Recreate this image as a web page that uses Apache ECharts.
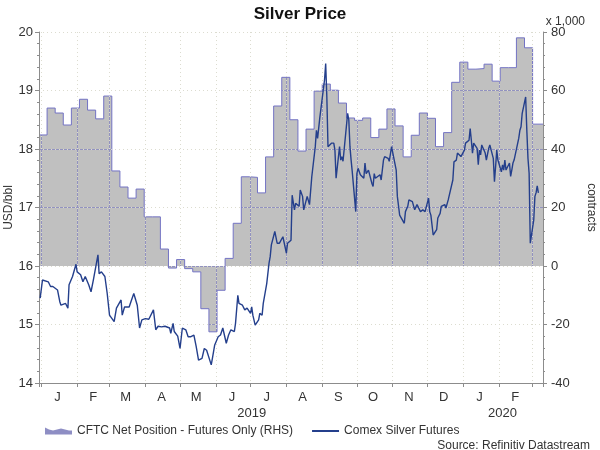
<!DOCTYPE html>
<html>
<head>
<meta charset="utf-8">
<title>Silver Price</title>
<script src="https://cdn.jsdelivr.net/npm/echarts@6.0.0/dist/echarts.min.js"></script>
<style>
    html, body { margin: 0; padding: 0; background: #fff; }
    #chart { width: 600px; height: 450px; }
</style>
</head>
<body>
<div id="chart"></div>
<script>
// axis span (calendar days shown on the x axis)
var axisStart = '2018-12-30';
var axisEnd = '2020-03-10';

var monthLetters = ['J', 'F', 'M', 'A', 'M', 'J', 'J', 'A', 'S', 'O', 'N', 'D'];
var yearLabelDays = ['2019-07-02', '2020-02-04'];

// CFTC net position, thousand contracts, one reading per week from cftcStart
var cftcStart = '2018-12-30';
var cftcNet = [
    44.8, 54.0, 52.3, 48.2, 54.0, 57.0, 53.3, 50.3, 58.1, 32.5,
    27.0, 23.2, 26.3, 16.8, 16.8, 5.8, -0.7, 2.2, -0.9, -2.0,
    -14.6, -22.5, -8.3, 2.6, 14.6, 30.5, 30.3, 25.0, 37.3, 54.7,
    64.5, 50.0, 39.3, 46.8, 59.8, 62.2, 60.1, 55.7, 50.6, 49.8,
    50.6, 43.9, 46.8, 53.7, 47.9, 37.3, 44.7, 52.3, 50.5, 40.8,
    45.6, 62.8, 69.7, 67.3, 67.5, 69.0, 63.2, 67.8, 67.8, 78.0,
    74.6, 48.5
];

// Comex silver futures, USD
var silverPrice = [
    ['2018-12-31', 15.45], ['2019-01-02', 15.76], ['2019-01-07', 15.73], ['2019-01-09', 15.65],
    ['2019-01-11', 15.65], ['2019-01-15', 15.59], ['2019-01-17', 15.39], ['2019-01-18', 15.33],
    ['2019-01-22', 15.36], ['2019-01-24', 15.28], ['2019-01-25', 15.68], ['2019-01-28', 15.82],
    ['2019-01-31', 16.03], ['2019-02-01', 15.90], ['2019-02-04', 15.85], ['2019-02-06', 15.73],
    ['2019-02-08', 15.82], ['2019-02-11', 15.68], ['2019-02-13', 15.56], ['2019-02-15', 15.76],
    ['2019-02-19', 16.19], ['2019-02-20', 15.87], ['2019-02-22', 15.90], ['2019-02-25', 15.82],
    ['2019-02-27', 15.53], ['2019-03-01', 15.16], ['2019-03-05', 15.05], ['2019-03-06', 15.02],
    ['2019-03-07', 15.28], ['2019-03-08', 15.27], ['2019-03-11', 15.42], ['2019-03-12', 15.16],
    ['2019-03-14', 15.30], ['2019-03-18', 15.30], ['2019-03-19', 15.36], ['2019-03-20', 15.39],
    ['2019-03-22', 15.53], ['2019-03-25', 15.33], ['2019-03-27', 14.94], ['2019-03-29', 15.08],
    ['2019-04-01', 15.10], ['2019-04-04', 15.09], ['2019-04-08', 15.25], ['2019-04-09', 15.25],
    ['2019-04-10', 14.91], ['2019-04-12', 14.97], ['2019-04-15', 14.96], ['2019-04-18', 14.97],
    ['2019-04-22', 14.94], ['2019-04-23', 14.85], ['2019-04-25', 15.02], ['2019-04-26', 14.88],
    ['2019-04-29', 14.80], ['2019-05-01', 14.59], ['2019-05-03', 14.94], ['2019-05-06', 14.91],
    ['2019-05-08', 14.79], ['2019-05-10', 14.79], ['2019-05-13', 14.82], ['2019-05-15', 14.62],
    ['2019-05-17', 14.39], ['2019-05-20', 14.42], ['2019-05-21', 14.39], ['2019-05-22', 14.59],
    ['2019-05-24', 14.56], ['2019-05-28', 14.31], ['2019-05-29', 14.42], ['2019-05-31', 14.65],
    ['2019-06-03', 14.79], ['2019-06-05', 14.82], ['2019-06-07', 14.94], ['2019-06-10', 14.68],
    ['2019-06-12', 14.82], ['2019-06-14', 14.91], ['2019-06-17', 14.88], ['2019-06-18', 15.02],
    ['2019-06-20', 15.50], ['2019-06-21', 15.36], ['2019-06-24', 15.33], ['2019-06-26', 15.25],
    ['2019-06-28', 15.28], ['2019-07-01', 15.19], ['2019-07-02', 15.30], ['2019-07-03', 15.16],
    ['2019-07-05', 14.99], ['2019-07-08', 15.08], ['2019-07-09', 15.19], ['2019-07-11', 15.16],
    ['2019-07-12', 15.36], ['2019-07-15', 15.70], ['2019-07-17', 16.05], ['2019-07-18', 16.16],
    ['2019-07-19', 16.36], ['2019-07-22', 16.59], ['2019-07-24', 16.39], ['2019-07-26', 16.39],
    ['2019-07-29', 16.50], ['2019-08-01', 16.22], ['2019-08-02', 16.39], ['2019-08-05', 16.44],
    ['2019-08-06', 17.21], ['2019-08-08', 16.96], ['2019-08-09', 17.07], ['2019-08-12', 17.02],
    ['2019-08-13', 17.30], ['2019-08-15', 17.19], ['2019-08-16', 16.96], ['2019-08-19', 17.19],
    ['2019-08-21', 17.05], ['2019-08-23', 17.53], ['2019-08-26', 18.04], ['2019-08-27', 18.32],
    ['2019-08-28', 18.18], ['2019-08-29', 18.18], ['2019-08-30', 18.55], ['2019-09-03', 19.18],
    ['2019-09-04', 19.46], ['2019-09-05', 18.89], ['2019-09-06', 18.04], ['2019-09-09', 18.10],
    ['2019-09-11', 18.10], ['2019-09-12', 17.98], ['2019-09-13', 17.50], ['2019-09-16', 18.04],
    ['2019-09-17', 17.81], ['2019-09-18', 17.87], ['2019-09-19', 17.79], ['2019-09-20', 17.76],
    ['2019-09-23', 18.61], ['2019-09-24', 18.50], ['2019-09-25', 18.04], ['2019-09-26', 17.81],
    ['2019-09-27', 17.61], ['2019-09-30', 16.93], ['2019-10-01', 17.58], ['2019-10-02', 17.67],
    ['2019-10-04', 17.56], ['2019-10-07', 17.50], ['2019-10-08', 17.76], ['2019-10-09', 17.58],
    ['2019-10-11', 17.64], ['2019-10-14', 17.41], ['2019-10-15', 17.36], ['2019-10-16', 17.58],
    ['2019-10-17', 17.50], ['2019-10-21', 17.56], ['2019-10-22', 17.47], ['2019-10-24', 17.81],
    ['2019-10-25', 17.87], ['2019-10-28', 17.84], ['2019-10-29', 17.79], ['2019-10-31', 18.04],
    ['2019-11-01', 18.07], ['2019-11-04', 17.64], ['2019-11-05', 17.19], ['2019-11-07', 16.87],
    ['2019-11-08', 16.85], ['2019-11-11', 16.73], ['2019-11-12', 16.93], ['2019-11-14', 17.02],
    ['2019-11-15', 17.13], ['2019-11-18', 17.10], ['2019-11-20', 16.96], ['2019-11-22', 17.05],
    ['2019-11-25', 16.93], ['2019-11-27', 16.96], ['2019-11-29', 16.93], ['2019-12-02', 17.16],
    ['2019-12-03', 16.93], ['2019-12-04', 16.87], ['2019-12-06', 16.53], ['2019-12-09', 16.62],
    ['2019-12-10', 16.82], ['2019-12-12', 16.90], ['2019-12-13', 17.02], ['2019-12-16', 17.05],
    ['2019-12-17', 16.99], ['2019-12-19', 17.13], ['2019-12-23', 17.47], ['2019-12-24', 17.78],
    ['2019-12-26', 17.81], ['2019-12-27', 17.93], ['2019-12-30', 17.87], ['2019-12-31', 17.90],
    ['2020-01-02', 17.98], ['2020-01-03', 18.10], ['2020-01-06', 18.15], ['2020-01-07', 18.35],
    ['2020-01-08', 18.15], ['2020-01-09', 17.93], ['2020-01-10', 18.10], ['2020-01-13', 18.01],
    ['2020-01-14', 17.73], ['2020-01-15', 17.98], ['2020-01-16', 17.90], ['2020-01-17', 18.07],
    ['2020-01-20', 17.93], ['2020-01-21', 17.81], ['2020-01-23', 18.01], ['2020-01-24', 18.07],
    ['2020-01-27', 17.84], ['2020-01-28', 17.44], ['2020-01-29', 17.70], ['2020-01-30', 17.98],
    ['2020-01-31', 17.81], ['2020-02-03', 17.61], ['2020-02-04', 17.73], ['2020-02-05', 17.64],
    ['2020-02-06', 17.81], ['2020-02-07', 17.64], ['2020-02-10', 17.76], ['2020-02-11', 17.53],
    ['2020-02-12', 17.64], ['2020-02-13', 17.76], ['2020-02-14', 17.81], ['2020-02-18', 18.18],
    ['2020-02-19', 18.32], ['2020-02-20', 18.38], ['2020-02-21', 18.61], ['2020-02-24', 18.89],
    ['2020-02-25', 18.32], ['2020-02-26', 17.84], ['2020-02-27', 17.58], ['2020-02-28', 16.39],
    ['2020-03-02', 16.79], ['2020-03-03', 17.19], ['2020-03-04', 17.25], ['2020-03-05', 17.37],
    ['2020-03-06', 17.25]
];

var cftcName = 'CFTC Net Position - Futures Only (RHS)';
var silverName = 'Comex Silver Futures';
var fontName = 'Liberation Sans, Arial, sans-serif';
var DAY = 86400000;
var axisGrey = '#8c8c8c';

function isoDay(d) {
    return d.toISOString().slice(0, 10);
}

// every calendar day between two iso dates, used as x categories
function dayList(start, end) {
    var out = [];
    var d = new Date(start + 'T00:00:00Z');
    var e = new Date(end + 'T00:00:00Z');
    while (d <= e) {
        out.push(isoDay(d));
        d.setUTCDate(d.getUTCDate() + 1);
    }
    return out;
}

var days = dayList(axisStart, axisEnd);

// weekly steps, last reading held until the end of the axis
var cftcData = cftcNet.map(function (v, i) {
    var d = new Date(cftcStart + 'T00:00:00Z');
    d.setUTCDate(d.getUTCDate() + 7 * i);
    return [isoDay(d), v];
});
cftcData.push([axisEnd, cftcNet[cftcNet.length - 1]]);

// white masks outside the filled region, so the blue grid only shows inside it
var maskAbove = cftcData.map(function (p) { return [p[0], Math.max(p[1], 0)]; });
var maskBelow = cftcData.map(function (p) { return [p[0], Math.min(p[1], 0)]; });

// grid seen through the grey fill
var innerGrid = { show: true, lineStyle: { color: 'rgb(190, 190, 255)', width: 1, type: 'solid' } };
// faint dotted grid on the white part
var outerGrid = { show: true, lineStyle: { color: '#dcdcd0', width: 1, type: [1, 3] } };

function maskSeries(data, origin) {
    return {
        type: 'line',
        xAxisIndex: 0,
        yAxisIndex: 1,
        step: 'end',
        symbol: 'none',
        silent: true,
        z: 1,
        lineStyle: { width: 0, opacity: 0 },
        areaStyle: { color: '#ffffff', opacity: 1, origin: origin },
        data: data
    };
}

var chart = echarts.init(document.getElementById('chart'));

chart.setOption({
    animation: false,
    textStyle: { fontFamily: fontName },
    title: [
        {
            text: 'Silver Price',
            left: 'center',
            top: 1,
            textStyle: { fontSize: 17, fontWeight: 'bold', color: '#111' }
        },
        {
            text: 'x 1,000',
            right: 10,
            top: 11,
            textStyle: { fontSize: 12, fontWeight: 'normal', color: '#333' }
        },
        {
            text: 'Source: Refinitiv Datastream',
            right: 5,
            top: 435,
            textStyle: { fontSize: 12, fontWeight: 'normal', color: '#333' }
        }
    ],
    legend: {
        left: 40,
        top: 420,
        itemWidth: 27,
        itemHeight: 10,
        itemGap: 18,
        textStyle: { fontSize: 12, color: '#333' },
        data: [
            {
                name: cftcName,
                icon: 'path://M0,10 L0,3 L4,5 L8,6 L12,5 L16,4 L20,5 L24,6 L27,6 L27,10 Z',
                itemStyle: { color: '#8e8ec4', borderWidth: 0 }
            },
            {
                name: silverName,
                itemStyle: { opacity: 0 }
            }
        ]
    },
    grid: { left: 39, right: 57, top: 32, bottom: 67, outerBoundsMode: 'none' },
    xAxis: [
        {
            // data axis: one category per calendar day, month letters mid-month
            type: 'category',
            data: days,
            boundaryGap: false,
            axisLine: { show: false },
            axisTick: { show: false },
            axisLabel: {
                interval: function (index, value) { return value.slice(8) === '15'; },
                formatter: function (value) { return monthLetters[+value.slice(5, 7) - 1]; },
                margin: 8,
                fontSize: 13,
                color: '#333'
            },
            splitLine: { show: false }
        },
        {
            // year labels
            type: 'category',
            data: days,
            boundaryGap: false,
            position: 'bottom',
            offset: 18,
            axisLine: { show: false },
            axisTick: { show: false },
            axisLabel: {
                interval: function (index, value) { return yearLabelDays.indexOf(value) >= 0; },
                formatter: function (value) { return value.slice(0, 4); },
                margin: 6,
                fontSize: 13,
                color: '#333'
            },
            splitLine: { show: false }
        },
        {
            // month boundary grid under the fill
            type: 'time',
            min: axisStart,
            max: axisEnd,
            position: 'bottom',
            z: 0,
            minInterval: 28 * DAY,
            maxInterval: 31 * DAY,
            axisLine: { show: false },
            axisTick: { show: false },
            axisLabel: { show: false },
            splitLine: innerGrid
        },
        {
            // month boundary ticks, axis line and faint grid on top
            type: 'time',
            min: axisStart,
            max: axisEnd,
            position: 'bottom',
            z: 3,
            minInterval: 28 * DAY,
            maxInterval: 31 * DAY,
            axisLine: { show: true, lineStyle: { color: axisGrey } },
            axisTick: { show: true, length: 4, lineStyle: { color: axisGrey } },
            axisLabel: { show: false },
            splitLine: outerGrid
        }
    ],
    yAxis: [
        {
            type: 'value',
            min: 14,
            max: 20,
            interval: 1,
            z: 3,
            name: 'USD/bbl',
            nameLocation: 'middle',
            nameGap: 24,
            nameMoveOverlap: false,
            nameTextStyle: { fontSize: 12, color: '#333' },
            axisLine: { show: true, lineStyle: { color: axisGrey } },
            axisTick: { show: true, length: 4, lineStyle: { color: axisGrey } },
            minorTick: { show: true, splitNumber: 5, length: 2, lineStyle: { color: axisGrey } },
            axisLabel: { fontSize: 13, color: '#333', margin: 6 },
            splitLine: outerGrid
        },
        {
            type: 'value',
            min: -40,
            max: 80,
            interval: 20,
            position: 'right',
            z: 3,
            name: 'contracts',
            nameLocation: 'middle',
            nameRotate: -90,
            nameGap: 42,
            nameMoveOverlap: false,
            nameTextStyle: { fontSize: 12, color: '#333' },
            axisLine: { show: true, lineStyle: { color: axisGrey } },
            axisTick: { show: true, length: 4, lineStyle: { color: axisGrey } },
            minorTick: { show: true, splitNumber: 5, length: 2, lineStyle: { color: axisGrey } },
            axisLabel: { fontSize: 13, color: '#333', margin: 8 },
            splitLine: { show: false }
        },
        {
            // price grid under the fill
            type: 'value',
            min: 14,
            max: 20,
            interval: 1,
            position: 'left',
            z: 0,
            axisLine: { show: false },
            axisTick: { show: false },
            axisLabel: { show: false },
            splitLine: innerGrid
        }
    ],
    series: [
        maskSeries(maskAbove, 'end'),
        maskSeries(maskBelow, 'start'),
        {
            name: cftcName,
            type: 'line',
            xAxisIndex: 0,
            yAxisIndex: 1,
            step: 'end',
            symbol: 'none',
            z: 2,
            lineStyle: { color: '#7373c4', width: 1 },
            itemStyle: { color: '#7373c4' },
            areaStyle: { color: 'rgb(45, 45, 45)', opacity: 0.3 },
            data: cftcData
        },
        {
            name: silverName,
            type: 'line',
            xAxisIndex: 0,
            yAxisIndex: 0,
            symbol: 'none',
            z: 5,
            lineStyle: { color: '#243f8c', width: 1.4 },
            itemStyle: { color: '#243f8c' },
            data: silverPrice
        }
    ]
});
</script>
</body>
</html>
